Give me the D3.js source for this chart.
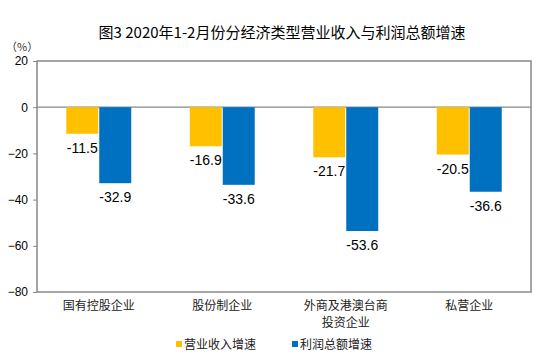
<!DOCTYPE html>
<html>
<head>
<meta charset="utf-8">
<script src="https://cdn.jsdelivr.net/npm/d3@7"></script>
<style>
body { margin: 0; background: #fff; }
svg { display: block; }
</style>
</head>
<body>
<svg id="chart" width="550" height="360"></svg>
<script>
const categories = [["国有控股企业"], ["股份制企业"], ["外商及港澳台商", "投资企业"], ["私营企业"]];
const seriesNames = ["营业收入增速", "利润总额增速"];
const revenueGrowth = [-11.5, -16.9, -21.7, -20.5];
const profitGrowth = [-32.9, -33.6, -53.6, -36.6];
const yTicks = [20, 0, -20, -40, -60, -80];
const colors = ["#FFC000", "#0070C0"];
const title = "图3 2020年1-2月份分经济类型营业收入与利润总额增速";

(function () {
const svg = d3.select("#chart");
const pL = 37, pR = 531, pT = 61, pB = 292;
const cjk = "'Noto Sans CJK SC', 'Noto Sans', sans-serif";
const latin = "'Liberation Sans', Arial, sans-serif";

const catKeys = categories.map(c => c.join(""));
const x0 = d3.scaleBand().domain(catKeys).range([pL, pR]).paddingInner(0.474).paddingOuter(0.237);
const x1 = d3.scaleBand().domain(seriesNames).range([0, x0.bandwidth()]).paddingInner(0.03);
const y = d3.scaleLinear().domain([-80, 20]).range([pB, pT]);

svg.append("text").attr("x", 282).attr("y", 38).attr("text-anchor", "middle")
  .style("font-family", cjk).style("font-size", "15px").attr("fill", "#000").text(title);
svg.append("text").attr("x", 6).attr("y", 51)
  .style("font-family", cjk).style("font-size", "11px").attr("fill", "#333").text("（%）");

const yAxis = d3.axisLeft(y).tickValues(yTicks).tickSize(4).tickPadding(5).tickFormat(d3.format("d"));
const ga = svg.append("g").attr("transform", `translate(${pL},0)`).call(yAxis);
ga.select(".domain").remove();
ga.selectAll(".tick line").attr("stroke", "#888");
ga.selectAll(".tick text").style("font-family", latin).style("font-size", "12px").attr("fill", "#000");

svg.append("line").attr("x1", pL).attr("x2", pR).attr("y1", y(0)).attr("y2", y(0))
  .attr("stroke", "#888").attr("stroke-width", 1.2);

const data = catKeys.map((k, i) => ({ key: k, values: [revenueGrowth[i], profitGrowth[i]] }));
const groups = svg.selectAll("g.cat").data(data).enter().append("g")
  .attr("class", "cat").attr("transform", d => `translate(${x0(d.key)},0)`);
groups.selectAll("rect").data(d => d.values.map((v, j) => ({ s: seriesNames[j], v, j })))
  .enter().append("rect")
  .attr("x", d => x1(d.s)).attr("width", x1.bandwidth())
  .attr("y", d => y(Math.max(0, d.v))).attr("height", d => Math.abs(y(d.v) - y(0)))
  .attr("fill", d => colors[d.j]);
groups.selectAll("text.val").data(d => d.values.map((v, j) => ({ s: seriesNames[j], v, j })))
  .enter().append("text").attr("class", "val")
  .attr("x", d => x1(d.s) + x1.bandwidth() / 2).attr("y", d => y(d.v) + 19)
  .attr("text-anchor", "middle").style("font-family", latin).style("font-size", "14px")
  .attr("fill", "#000").text(d => d.v.toFixed(1));

svg.append("rect").attr("x", pL).attr("y", pT).attr("width", pR - pL).attr("height", pB - pT)
  .attr("fill", "none").attr("stroke", "#888").attr("stroke-width", 1.5);

categories.forEach((lines, i) => {
  const cx = x0(catKeys[i]) + x0.bandwidth() / 2;
  const t = svg.append("text").attr("x", cx).attr("y", 310)
    .attr("text-anchor", "middle").style("font-family", cjk).style("font-size", "12px").attr("fill", "#222");
  lines.forEach((l, k) => t.append("tspan").attr("x", cx).attr("dy", k ? 17 : 0).text(l));
});

const legX = [176, 292];
seriesNames.forEach((s, i) => {
  svg.append("rect").attr("x", legX[i]).attr("y", 341).attr("width", 6).attr("height", 6).attr("fill", colors[i]);
  svg.append("text").attr("x", legX[i] + 8).attr("y", 348.5).style("font-family", cjk).style("font-size", "12px")
    .attr("fill", "#222").text(s);
});
})();
</script>
</body>
</html>
